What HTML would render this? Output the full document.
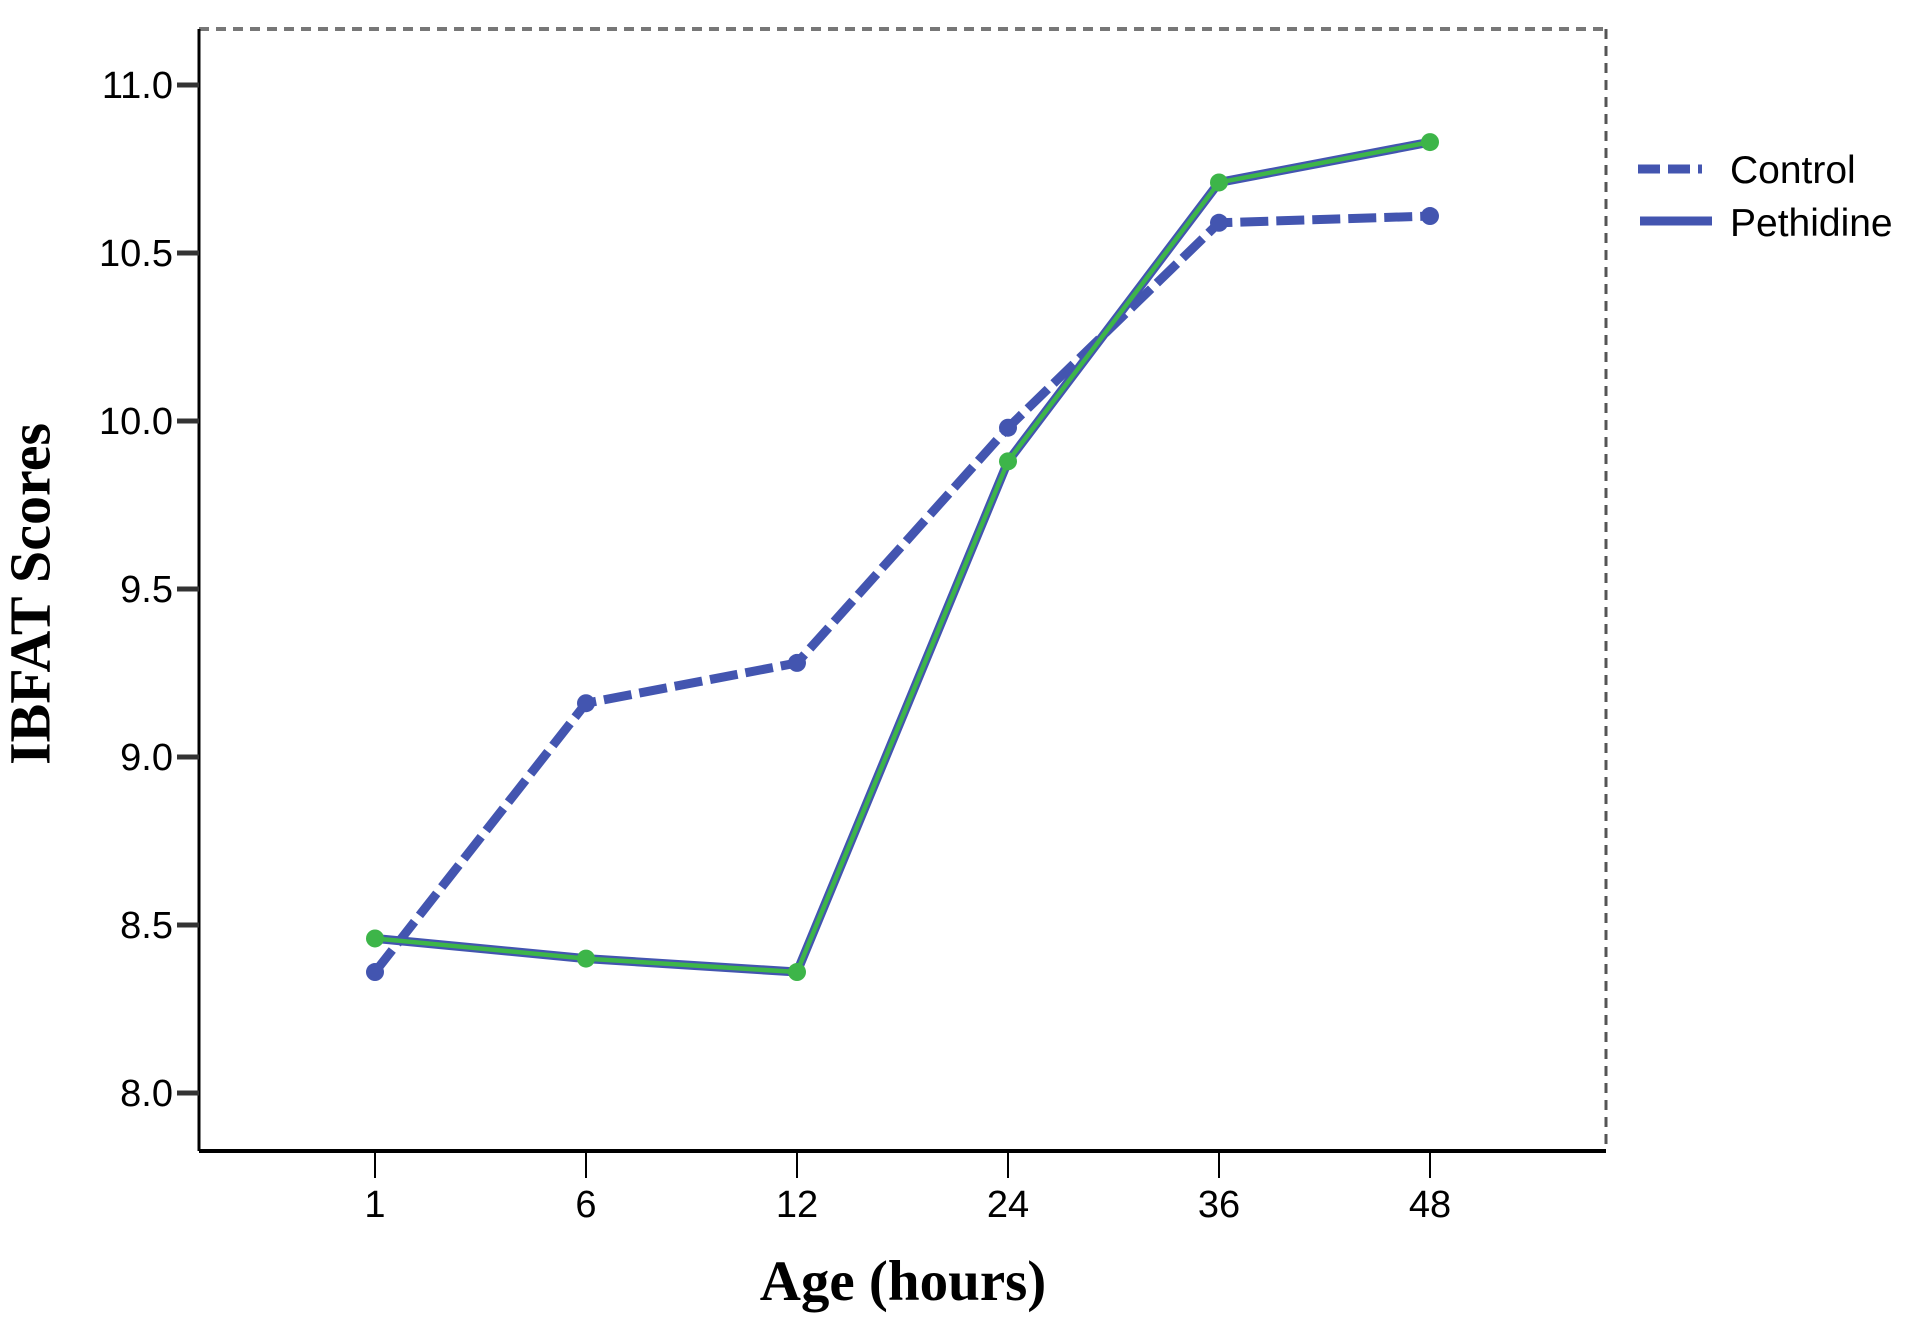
<!DOCTYPE html>
<html><head><meta charset="utf-8"><style>
html,body{margin:0;padding:0;background:#fff;}
svg{display:block;}
</style></head><body>
<svg id="chart" width="1913" height="1326" viewBox="0 0 1913 1326" xmlns="http://www.w3.org/2000/svg">
<rect width="1913" height="1326" fill="#fff"/>
<line x1="199" y1="29" x2="1606" y2="29" stroke="#777" stroke-width="4" stroke-dasharray="10,7"/>
<line x1="1606" y1="29" x2="1606" y2="1151" stroke="#555" stroke-width="3" stroke-dasharray="10,7"/>
<line x1="199" y1="29" x2="199" y2="1151" stroke="#000" stroke-width="3"/>
<line x1="199" y1="1151" x2="1606" y2="1151" stroke="#000" stroke-width="4"/>
<g id="axes"></g>
<g id="series"></g>
<text x="36" y="594" transform="rotate(-90 36 594)" text-anchor="middle" dominant-baseline="middle" font-family="Liberation Serif, serif" font-weight="bold" font-size="58">IBFAT Scores</text>
<text x="903" y="1300" text-anchor="middle" font-family="Liberation Serif, serif" font-weight="bold" font-size="57">Age (hours)</text>
<g>
<line x1="1638" y1="169" x2="1702" y2="169" stroke="#4355b0" stroke-width="9" stroke-dasharray="22,8"/>
<text x="1730" y="183" font-family="Liberation Sans, sans-serif" font-size="39">Control</text>
<line x1="1640" y1="221" x2="1712" y2="221" stroke="#4355b0" stroke-width="9"/>
<text x="1730" y="236" font-family="Liberation Sans, sans-serif" font-size="39">Pethidine</text>
</g>
</svg>
<script>
const categories = ["1","6","12","24","36","48"];
const controlValues = [8.36, 9.16, 9.28, 9.98, 10.59, 10.61];
const pethidineValues = [8.46, 8.40, 8.36, 9.88, 10.71, 10.83];
const yTicks = [8.0, 8.5, 9.0, 9.5, 10.0, 10.5, 11.0];

const NS = "http://www.w3.org/2000/svg";
function xPos(i){ return 375 + i * 211; }
function yPos(v){ return 1093 - (v - 8.0) * 336; }
function mk(tag, attrs, parent){
  const e = document.createElementNS(NS, tag);
  for (const k in attrs) e.setAttribute(k, attrs[k]);
  parent.appendChild(e);
  return e;
}
const axes = document.getElementById('axes');
const series = document.getElementById('series');

yTicks.forEach(v => {
  const y = yPos(v);
  const t = mk('line', {x1:177, y1:y, x2:199, y2:y, stroke:'#333', 'stroke-width':5}, axes);
  
  
  const l = mk('text', {x:173, y:y+13, 'text-anchor':'end', 'font-family':'Liberation Sans, sans-serif', 'font-size':38}, axes);
  l.textContent = v.toFixed(1);
  
  
});
categories.forEach((c, i) => {
  const x = xPos(i);
  const t = mk('line', {x1:x, y1:1151, x2:x, y2:1178, stroke:'#000', 'stroke-width':2}, axes);
  
  
  const l = mk('text', {x:x, y:1217, 'text-anchor':'middle', 'font-family':'Liberation Sans, sans-serif', 'font-size':38}, axes);
  l.textContent = c;
  
  
});

function pts(vals){ return vals.map((v, i) => xPos(i) + ',' + yPos(v)).join(' '); }

const cl = mk('polyline', {points:pts(controlValues), fill:'none', stroke:'#4355b0', 'stroke-width':9, 'stroke-dasharray':'28,8', 'stroke-linejoin':'round'}, series);


controlValues.forEach((v, i) => {
  const c = mk('circle', {cx:xPos(i), cy:yPos(v), r:9, fill:'#4355b0'}, series);
  
  
});

const pb = mk('polyline', {points:pts(pethidineValues), fill:'none', stroke:'#4355b0', 'stroke-width':9, 'stroke-linejoin':'round'}, series);


const pg = mk('polyline', {points:pts(pethidineValues), fill:'none', stroke:'#3db549', 'stroke-width':4.5, 'stroke-linejoin':'round'}, series);


pethidineValues.forEach((v, i) => {
  const c = mk('circle', {cx:xPos(i), cy:yPos(v), r:9, fill:'#3db549'}, series);
  
  
});
</script>
</body></html>
